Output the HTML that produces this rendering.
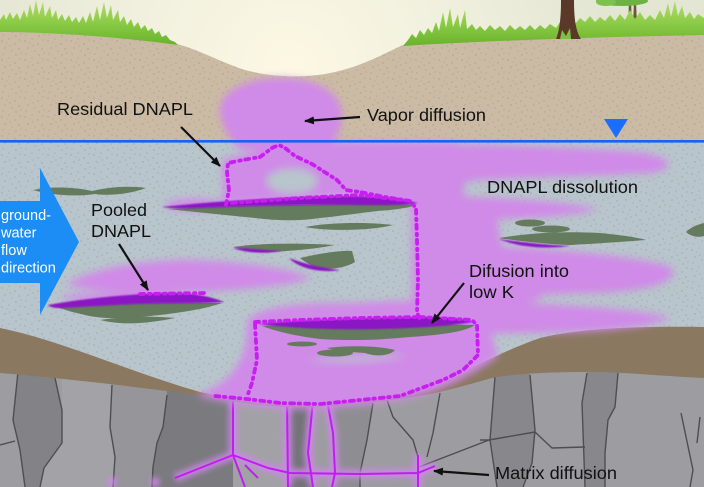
<!DOCTYPE html>
<html><head><meta charset="utf-8">
<style>html,body{margin:0;padding:0;background:#fff}svg{display:block}</style>
</head>
<body>
<svg width="704" height="487" viewBox="0 0 704 487" xmlns="http://www.w3.org/2000/svg">
<defs>
<radialGradient id="sky" cx="290" cy="70" r="320" gradientUnits="userSpaceOnUse">
<stop offset="0" stop-color="#fcf8e3"/><stop offset="0.45" stop-color="#f2f1df"/><stop offset="1" stop-color="#e3e6d3"/>
</radialGradient>
<linearGradient id="grass" x1="0" y1="0" x2="0" y2="1">
<stop offset="0" stop-color="#b4dc6c"/><stop offset="0.5" stop-color="#8bcb46"/><stop offset="1" stop-color="#6ab22c"/>
</linearGradient>
<pattern id="dt" width="23" height="19" patternUnits="userSpaceOnUse">
<g fill="#8a7866" fill-opacity="0.45">
<circle cx="2" cy="3" r="0.7"/><circle cx="9" cy="1" r="0.6"/><circle cx="15" cy="6" r="0.7"/><circle cx="20" cy="2" r="0.6"/>
<circle cx="5" cy="10" r="0.7"/><circle cx="12" cy="13" r="0.6"/><circle cx="19" cy="11" r="0.7"/><circle cx="3" cy="16" r="0.6"/>
<circle cx="10" cy="8" r="0.6"/><circle cx="16" cy="17" r="0.7"/><circle cx="7" cy="5" r="0.5"/><circle cx="21" cy="15" r="0.6"/>
</g>
</pattern>
<clipPath id="rockclip"><path d="M0,372 C60,377 130,385 190,393 C225,399 250,404 290,406 C340,406 400,399 435,392 C450,389 470,383 492,377 C510,373 550,371 585,371 C610,370 660,375 704,377 L704,487 L0,487 Z"/></clipPath>
<filter id="b4" x="-30%" y="-30%" width="160%" height="160%"><feGaussianBlur stdDeviation="4"/></filter>
<filter id="b3" x="-30%" y="-30%" width="160%" height="160%"><feGaussianBlur stdDeviation="3"/></filter>
<filter id="b1" x="-10%" y="-10%" width="120%" height="120%"><feGaussianBlur stdDeviation="0.7"/></filter>
<marker id="ah" viewBox="0 0 10 8" refX="9" refY="4" markerWidth="10" markerHeight="8" markerUnits="userSpaceOnUse" orient="auto">
<path d="M0,0 L10,4 L0,8 Z" fill="#111"/>
</marker>
</defs>

<!-- sky -->
<rect x="0" y="0" width="704" height="487" fill="url(#sky)"/>

<!-- saturated zone -->
<rect x="0" y="141" width="704" height="280" fill="#b8c5cc"/>
<rect x="0" y="141" width="704" height="280" fill="url(#dt)"/>

<!-- vadose zone -->
<path d="M0,31 C50,31 120,36 177,44 C200,50 220,62 245,70 C270,77 305,79 335,72 C365,65 385,53 403,45 C480,40 600,37 704,34 L704,142 L0,142 Z" fill="#cbbba4"/>
<path d="M0,31 C50,31 120,36 177,44 C200,50 220,62 245,70 C270,77 305,79 335,72 C365,65 385,53 403,45 C480,40 600,37 704,34 L704,142 L0,142 Z" fill="url(#dt)"/>

<!-- small tree -->
<path d="M629,0 L631,0 L632,28 L628,28 Z M634,0 L636,0 L637,26 L633,26 Z" fill="#6b5a3a"/>
<ellipse cx="622" cy="1" rx="26" ry="5" fill="#6cb342"/>
<ellipse cx="606" cy="2" rx="10" ry="4" fill="#7cc24e"/>

<!-- grass -->
<path d="M0,32 L0,20 L4,14 L6,20 L10,12 L13,19 L17,13 L20,20 L24,10 L27,18 L30,4 L33,16 L36,0 L39,15 L43,2 L45,17 L50,6 L52,18 L56,10 L58,20 L62,14 L65,21 L69,15 L72,22 L76,17 L79,23 L83,16 L86,23 L90,12 L93,22 L97,6 L100,20 L104,2 L107,18 L111,5 L113,20 L118,10 L120,22 L124,16 L127,25 L131,19 L134,27 L138,22 L141,29 L145,25 L148,31 L152,28 L155,34 L159,31 L162,37 L166,35 L170,40 L175,42 L178,45 C120,37 50,32 0,32 Z" fill="url(#grass)"/>
<path d="M403,46 L408,40 L412,34 L416,38 L420,30 L424,35 L428,28 L432,33 L436,22 L439,31 L443,12 L446,28 L450,8 L453,27 L458,14 L460,28 L465,10 L467,29 L472,24 L476,30 L480,26 L485,31 L490,25 L495,30 L500,26 L505,31 L510,25 L515,30 L520,26 L525,30 L530,25 L535,30 L540,25 L545,29 L550,24 L556,28 L560,22 L565,28 L575,24 L580,18 L585,22 L590,16 L595,22 L600,17 L605,21 L610,15 L615,21 L620,14 L625,20 L630,10 L635,19 L640,12 L645,20 L650,15 L655,20 L660,10 L664,18 L668,3 L671,17 L675,1 L678,16 L682,6 L685,18 L690,12 L694,19 L698,14 L704,18 L704,35 C600,37 480,41 403,46 Z" fill="url(#grass)"/>

<!-- tree trunk -->
<path d="M556,39 C560,30 561,15 561,0 L574,0 C574,15 575,30 581,39 Z" fill="#5a3929"/>
<path d="M560,39 L562,30 L566,36 L570,28 L571,39 Z" fill="#7cc142"/>

<!-- rock -->
<g clip-path="url(#rockclip)">
<rect x="0" y="360" width="704" height="127" fill="#9d9da1"/>
<path d="M17,360 L55,360 L55,378 L62,410 L62,443 L44,468 L40,487 L25,487 L20,450 L13,420 L18,372 Z" fill="#838387"/>
<path d="M62,360 L112,360 L112,385 L110,427 L115,457 L113,487 L40,487 L44,468 L62,443 Z" fill="#a3a3a7"/>
<path d="M112,360 L167,360 L167,395 L163,427 L157,443 L153,467 L152,487 L113,487 L115,457 L110,427 Z" fill="#95959a"/>
<path d="M165,360 L233,360 L233,487 L152,487 L153,467 L157,443 L163,427 L167,395 Z" fill="#7b7b7f"/>
<path d="M233,360 L288,360 L288,487 L233,487 Z" fill="#a2a2a6"/>
<path d="M287,360 L313,360 L313,407 L308,453 L313,487 L288,487 Z" fill="#747478"/>
<path d="M327,360 L373,360 L373,403 L367,440 L360,473 L360,487 L332,487 L335,473 L333,433 L327,407 Z" fill="#8e8e92"/>
<path d="M495,360 L530,360 L530,375 L535,430 L532,463 L523,487 L497,487 L490,440 L495,377 Z" fill="#88888c"/>
<path d="M587,360 L618,360 L618,373 L615,407 L608,420 L605,453 L605,487 L585,487 L582,403 L587,373 Z" fill="#88888c"/>

<g fill="none" stroke="#4e4e52" stroke-width="1.4" stroke-linejoin="round">
<path d="M18,372 L13,420 L20,450 L25,487"/>
<path d="M55,378 L62,410 L62,443 L44,468 L40,487"/>
<path d="M0,445 L15,441"/>
<path d="M112,385 L110,427 L115,457 L113,487"/>
<path d="M167,395 L163,427 L157,443 L153,467 L152,487"/>
<path d="M373,403 L367,440 L360,473 L360,487"/>
<path d="M387,400 L393,417 L413,440 L418,457"/>
<path d="M440,393 L433,433 L427,457"/>
<path d="M495,377 L490,440 L497,487"/>
<path d="M530,375 L535,430 L532,463 L523,487"/>
<path d="M419,467 L489,440 L535,432"/>
<path d="M535,432 L552,448 L585,447"/>
<path d="M480,440 L490,440"/>
<path d="M587,373 L582,403 L585,487"/>
<path d="M618,373 L615,407 L608,420 L605,453 L605,487"/>
<path d="M681,413 L693,470 L690,487"/>
<path d="M700,417 L697,443"/>
</g>

<g filter="url(#b3)" fill="none" stroke="#cf86ea" stroke-width="9" opacity="0.85">
<path d="M233,400 L233,455 L175,478 M233,455 L268,468 L290,473 L360,474 L418,473 M287,400 L288,487 M313,400 L308,453 L313,487 M327,400 L333,433 L335,473 L332,487 M418,455 L418,487 M418,473 L435,466"/>
<circle cx="112" cy="482" r="5" fill="#cf86ea" stroke="none"/>
<circle cx="155" cy="482" r="5" fill="#cf86ea" stroke="none"/>
</g>
<g fill="none" stroke="#c01ef0" stroke-width="2" stroke-linejoin="round">
<path d="M233,400 L233,455 L175,478 M233,455 L245,487 M233,455 L268,468 L290,473 L360,474 L418,473 M287,400 L288,487 M313,400 L308,453 L313,487 M327,400 L333,433 L335,473 L332,487 M418,455 L418,487 M418,473 L435,466 M245,465 L258,478"/>
</g>
</g>

<!-- brown layer -->
<path d="M0,328 C60,340 130,372 200,392 C240,400 270,404 300,404 C360,402 410,392 440,382 C470,370 500,352 540,338 C580,328 640,326 704,327 L704,378 C660,376 610,371 585,372 C550,372 510,374 492,378 C470,384 450,390 435,393 C400,400 340,407 290,407 C250,405 225,400 190,394 C130,386 60,378 0,373 Z" fill="#8a7860"/>

<!-- plume -->
<g filter="url(#b4)" fill="#d08ae8">
<path d="M221,118 C214,96 238,79 278,78 C318,77 344,94 342,118 C341,132 334,142 326,150 L240,150 C230,140 224,130 221,118 Z"/>
<path d="M229,162 L278,142 L455,142 L462,200 L418,206 L340,196 L232,203 Z"/>
<path d="M380,142 C480,144 590,147 645,153 C674,158 676,170 650,173 C600,176 520,177 470,181 L440,196 Z"/>
<path d="M412,145 L464,145 L464,200 L497,220 L502,248 L482,300 L472,330 L412,330 Z"/>
<path d="M440,196 C500,197 570,202 598,209 C578,217 500,220 440,220 Z"/>
<path d="M440,245 C520,246 620,253 668,266 C684,276 664,290 600,293 C540,295 480,295 440,295 Z"/>
<path d="M440,288 L540,290 C550,299 534,308 440,309 Z"/>
<path d="M252,318 C300,303 400,299 470,301 C560,304 640,309 670,318 C654,327 600,332 540,333 L252,336 Z"/>
<path d="M248,320 C258,309 285,304 330,303 L482,303 L498,356 C472,375 442,391 410,398 C370,406 320,409 290,409 C255,407 222,402 196,395 C222,386 236,375 245,348 Z"/>
<path d="M66,284 C90,270 130,262 180,260 C230,260 290,268 312,278 C290,286 240,290 200,292 C150,294 100,294 66,284 Z"/>
<path d="M226,205 L229,190 L227,172 L228,163 L243,160 L260,157 L272,148 L279,145 M416,208 L417,260 L418,312 L420,320 M255,324 L257,360 L252,383 L240,397" fill="none" stroke="#d08ae8" stroke-width="10"/>
<ellipse cx="195" cy="205" rx="30" ry="6"/>
<ellipse cx="120" cy="298" rx="60" ry="5"/>
</g>
<g filter="url(#b4)" fill="#b8c5cc">
<ellipse cx="292" cy="181" rx="26" ry="13"/>
<path d="M305,361 C335,356 380,354 408,356 C390,361 340,364 305,361 Z"/>
</g>

<!-- green lenses -->
<g fill="#657b5e">
<path d="M33,190 C48,187 70,186 92,191 C105,188 125,185 146,188 C130,194 110,196 95,194 C75,197 50,195 33,190 Z"/>
<path d="M168,209 C210,207 260,205 300,205 C350,204 395,203 416,205 C405,209 390,210 378,211 C360,213 340,216 320,218 C300,221 280,221 255,218 C225,215 195,212 168,209 Z"/>
<path d="M305,227 C330,222 370,222 393,225 C375,230 330,232 305,227 Z"/>
<path d="M233,247 C260,243 300,243 335,245 C310,250 280,252 255,252 Z"/>
<path d="M300,258 C318,254 338,250 352,251 L355,262 C345,268 330,270 318,268 C310,265 305,262 300,258 Z"/>
<path d="M58,307 C100,304 160,302 222,303 C205,309 180,313 150,316 C125,319 100,319 85,315 C72,312 64,310 58,307 Z"/>
<path d="M100,320 C125,316 150,316 175,318 C150,323 125,326 100,320 Z"/>
<path d="M262,326 C320,324 400,323 475,325 C465,332 440,335 410,337 C380,340 350,341 320,339 C295,336 275,331 262,326 Z"/>
<ellipse cx="302" cy="344" rx="15" ry="2.5"/>
<ellipse cx="335" cy="353" rx="18" ry="3.5"/>
<path d="M327,348 C350,345 380,346 395,350 C390,356 375,357 365,353 C350,352 335,351 327,348 Z"/>
<path d="M499,238 C530,233 560,231 600,233 C620,235 635,237 646,240 C620,242 590,244 570,245 C545,244 520,241 499,238 Z"/>
<ellipse cx="530" cy="223" rx="15" ry="3.5"/>
<ellipse cx="551" cy="229" rx="19" ry="3.5"/>
<path d="M686,232 C692,226 700,224 704,223 L704,236 C698,238 690,236 686,232 Z"/>
</g>

<!-- DNAPL -->
<g fill="#8a12c4" filter="url(#b1)">
<path d="M162,207 C200,203 250,199 300,197 C350,195 390,196 418,203 C405,206 370,205 340,205 C300,205 250,206 200,208 C180,209 168,208 162,207 Z"/>
<path d="M233,248 C245,248 265,250 282,251 C265,254 245,253 233,248 Z"/>
<path d="M289,258 C300,262 315,267 340,270 C325,273 300,270 289,258 Z"/>
<path d="M48,305 C80,299 120,295 160,293 C190,292 210,296 224,302 C200,304 170,303 140,304 C110,305 80,307 60,308 C54,308 50,307 48,305 Z"/>
<path d="M257,324 C300,320 360,318 420,317 C445,317 462,318 473,322 C450,326 420,328 380,329 C340,330 300,329 257,324 Z"/>
<path d="M499,239 C520,242 545,245 570,246 C550,249 520,248 499,239 Z"/>
</g>

<!-- dashed outlines -->
<g fill="none" stroke="#c81ef2" stroke-width="3.8" stroke-dasharray="4 5 1.5 4.5" stroke-linecap="round" stroke-linejoin="round">
<path d="M226,205 L229,190 L227,172 L228,163 L243,160 L260,157 L272,148 L279,145 L285,148 L295,156 L312,164 L337,180 L346,190 L360,192 L385,197 L410,201 L416,208 L417,240 L418,280 L417,312 L420,320"/>
<path d="M232,203 L300,198 L360,195 L410,201"/>
<path d="M255,322 L300,320 L360,318 L420,317 L472,320 L477,325 L478,355 L463,370 L443,380 L400,396 L360,400 L320,404 L280,403 L247,399 L215,396"/>
<path d="M255,324 L257,360 L252,383 L247,397"/>
<path d="M140,294 L207,293"/>
</g>

<!-- water table -->
<line x1="0" y1="141.3" x2="704" y2="141.3" stroke="#1565f2" stroke-width="2.6"/>
<path d="M604,119 L628,119 L616,138 Z" fill="#1a6dff"/>

<!-- flow arrow -->
<path d="M0,201 L40,201 L40,168 L79,242 L40,315 L40,283 L0,283 Z" fill="#1b8df5"/>
<g font-family="'Liberation Sans', Arial, sans-serif" font-size="14.5" fill="#ffffff">
<text x="1" y="220">ground-</text>
<text x="1" y="237.5">water</text>
<text x="1" y="255">flow</text>
<text x="1" y="272.5">direction</text>
</g>

<!-- pointer arrows -->
<g stroke="#111" stroke-width="2.2" fill="none" marker-end="url(#ah)">
<line x1="181" y1="127" x2="220" y2="166"/>
<line x1="360" y1="117" x2="305" y2="121"/>
<line x1="119" y1="244" x2="148" y2="290"/>
<line x1="464" y1="283" x2="432" y2="323"/>
<line x1="489" y1="475" x2="434" y2="471"/>
</g>

<!-- labels -->
<g font-family="'Liberation Sans', Arial, sans-serif" font-size="17.5" fill="#111">
<text x="57" y="115" textLength="136" lengthAdjust="spacingAndGlyphs">Residual DNAPL</text>
<text x="367" y="121" textLength="119" lengthAdjust="spacingAndGlyphs">Vapor diffusion</text>
<text x="487" y="193" textLength="151" lengthAdjust="spacingAndGlyphs">DNAPL dissolution</text>
<text x="91" y="216" textLength="56" lengthAdjust="spacingAndGlyphs">Pooled</text>
<text x="91" y="237" textLength="60" lengthAdjust="spacingAndGlyphs">DNAPL</text>
<text x="469" y="277" textLength="100" lengthAdjust="spacingAndGlyphs">Difusion into</text>
<text x="469" y="298" textLength="45" lengthAdjust="spacingAndGlyphs">low K</text>
<text x="495" y="479" textLength="122" lengthAdjust="spacingAndGlyphs">Matrix diffusion</text>
</g>
</svg>
</body></html>
